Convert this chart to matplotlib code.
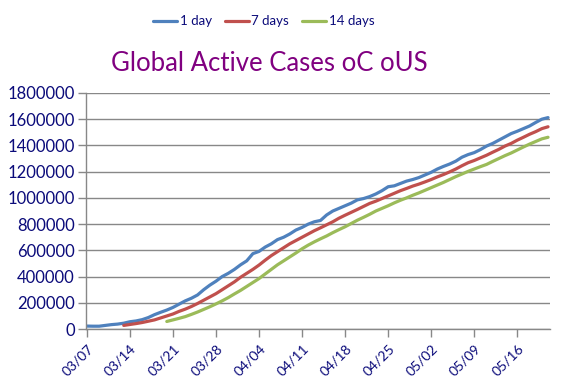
import numpy as np
import pandas as pd
import matplotlib
matplotlib.use("Agg")
import matplotlib.pyplot as plt
import matplotlib.dates as mdates
from matplotlib.ticker import FuncFormatter

plt.rcParams['font.family'] = ['Lato', 'DejaVu Sans']

# dates 03/07 .. 05/21 (2020)
dates = pd.date_range('2020-03-07', '2020-05-21', freq='D')

one_day = [23, 22, 22, 28, 34, 38, 45, 56, 62, 72, 88, 110, 128, 145, 165, 190,
           215, 235, 260, 300, 335, 365, 400, 425, 455, 490, 520, 575, 592, 625,
           650, 682, 700, 725, 755, 775, 800, 818, 828, 870, 900, 920, 940, 960,
           985, 995, 1010, 1030, 1055, 1085, 1092, 1110, 1128, 1140, 1155, 1175,
           1195, 1220, 1240, 1258, 1280, 1310, 1330, 1345, 1368, 1395, 1415, 1440,
           1465, 1490, 1508, 1528, 1548, 1575, 1600, 1612]

# 7-day average starts 03/13
seven_days = [28, 35, 42, 50, 60, 70, 85, 100, 115, 135, 152, 172, 195, 220, 245,
              270, 300, 330, 360, 395, 425, 455, 488, 525, 560, 590, 620, 650, 675,
              700, 725, 750, 772, 795, 818, 845, 868, 890, 912, 935, 958, 975, 995,
              1015, 1035, 1055, 1072, 1090, 1105, 1122, 1140, 1160, 1178, 1198, 1220,
              1245, 1268, 1285, 1305, 1325, 1348, 1370, 1395, 1415, 1440, 1462, 1485,
              1505, 1528, 1542]

# 14-day average starts 03/20
fourteen_days = [58, 70, 82, 95, 112, 130, 150, 170, 192, 215, 240, 268, 295, 325,
                 355, 385, 420, 455, 490, 520, 550, 580, 612, 640, 665, 688, 710,
                 735, 758, 780, 805, 830, 852, 875, 900, 920, 940, 962, 982, 1000,
                 1020, 1038, 1058, 1078, 1098, 1118, 1140, 1162, 1182, 1202, 1220,
                 1238, 1255, 1278, 1300, 1322, 1342, 1365, 1388, 1410, 1430, 1450, 1462]

series = [("1 day", one_day, "#4F81BD"),
          ("7 days", seven_days, "#C0504D"),
          ("14 days", fourteen_days, "#9BBB59")]

navy = "#0B0B7A"
grid_c = "#888888"

fig = plt.figure(figsize=(5.76, 3.84), dpi=100)
ax = fig.add_axes([0.149, 0.143, 0.806, 0.615])

for name, vals, col in series:
    d = dates[len(dates) - len(vals):]
    ax.plot(d, np.array(vals) * 1000, color=col, lw=2.3, label=name,
            solid_capstyle='round')

ax.set_ylim(0, 1800000)
ax.set_yticks(np.arange(0, 1800001, 200000))
ax.yaxis.set_major_formatter(FuncFormatter(lambda v, p: f"{int(v)}"))
ax.yaxis.grid(True, color=grid_c, lw=1)
ax.set_axisbelow(True)

ax.set_xlim(dates[0] - pd.Timedelta(hours=4), dates[-1] + pd.Timedelta(hours=8))
ax.set_xticks(pd.date_range('2020-03-07', '2020-05-16', freq='7D'))
ax.xaxis.set_major_formatter(mdates.DateFormatter('%m/%d'))

for s in ['top', 'right']:
    ax.spines[s].set_visible(False)
for s in ['left', 'bottom']:
    ax.spines[s].set_color(grid_c)
    ax.spines[s].set_linewidth(1)

ax.tick_params(axis='y', colors=grid_c, labelcolor=navy, labelsize=12,
               length=6, width=1, pad=2)
ax.tick_params(axis='x', colors=grid_c, labelcolor=navy, labelsize=10,
               length=6, width=1)
plt.setp(ax.get_xticklabels(), rotation=45, ha='right', rotation_mode='anchor')

fig.text(0.467, 0.835, "Global Active Cases oC oUS", color="#800080",
         fontsize=18.5, ha='center', va='center')

fig.legend(loc='center', bbox_to_anchor=(0.458, 0.945), ncol=3, frameon=False,
           fontsize=9.5, handlelength=1.8, handletextpad=0.2, columnspacing=1.0,
           labelcolor=navy)

fig.savefig("out.png", dpi=100)
